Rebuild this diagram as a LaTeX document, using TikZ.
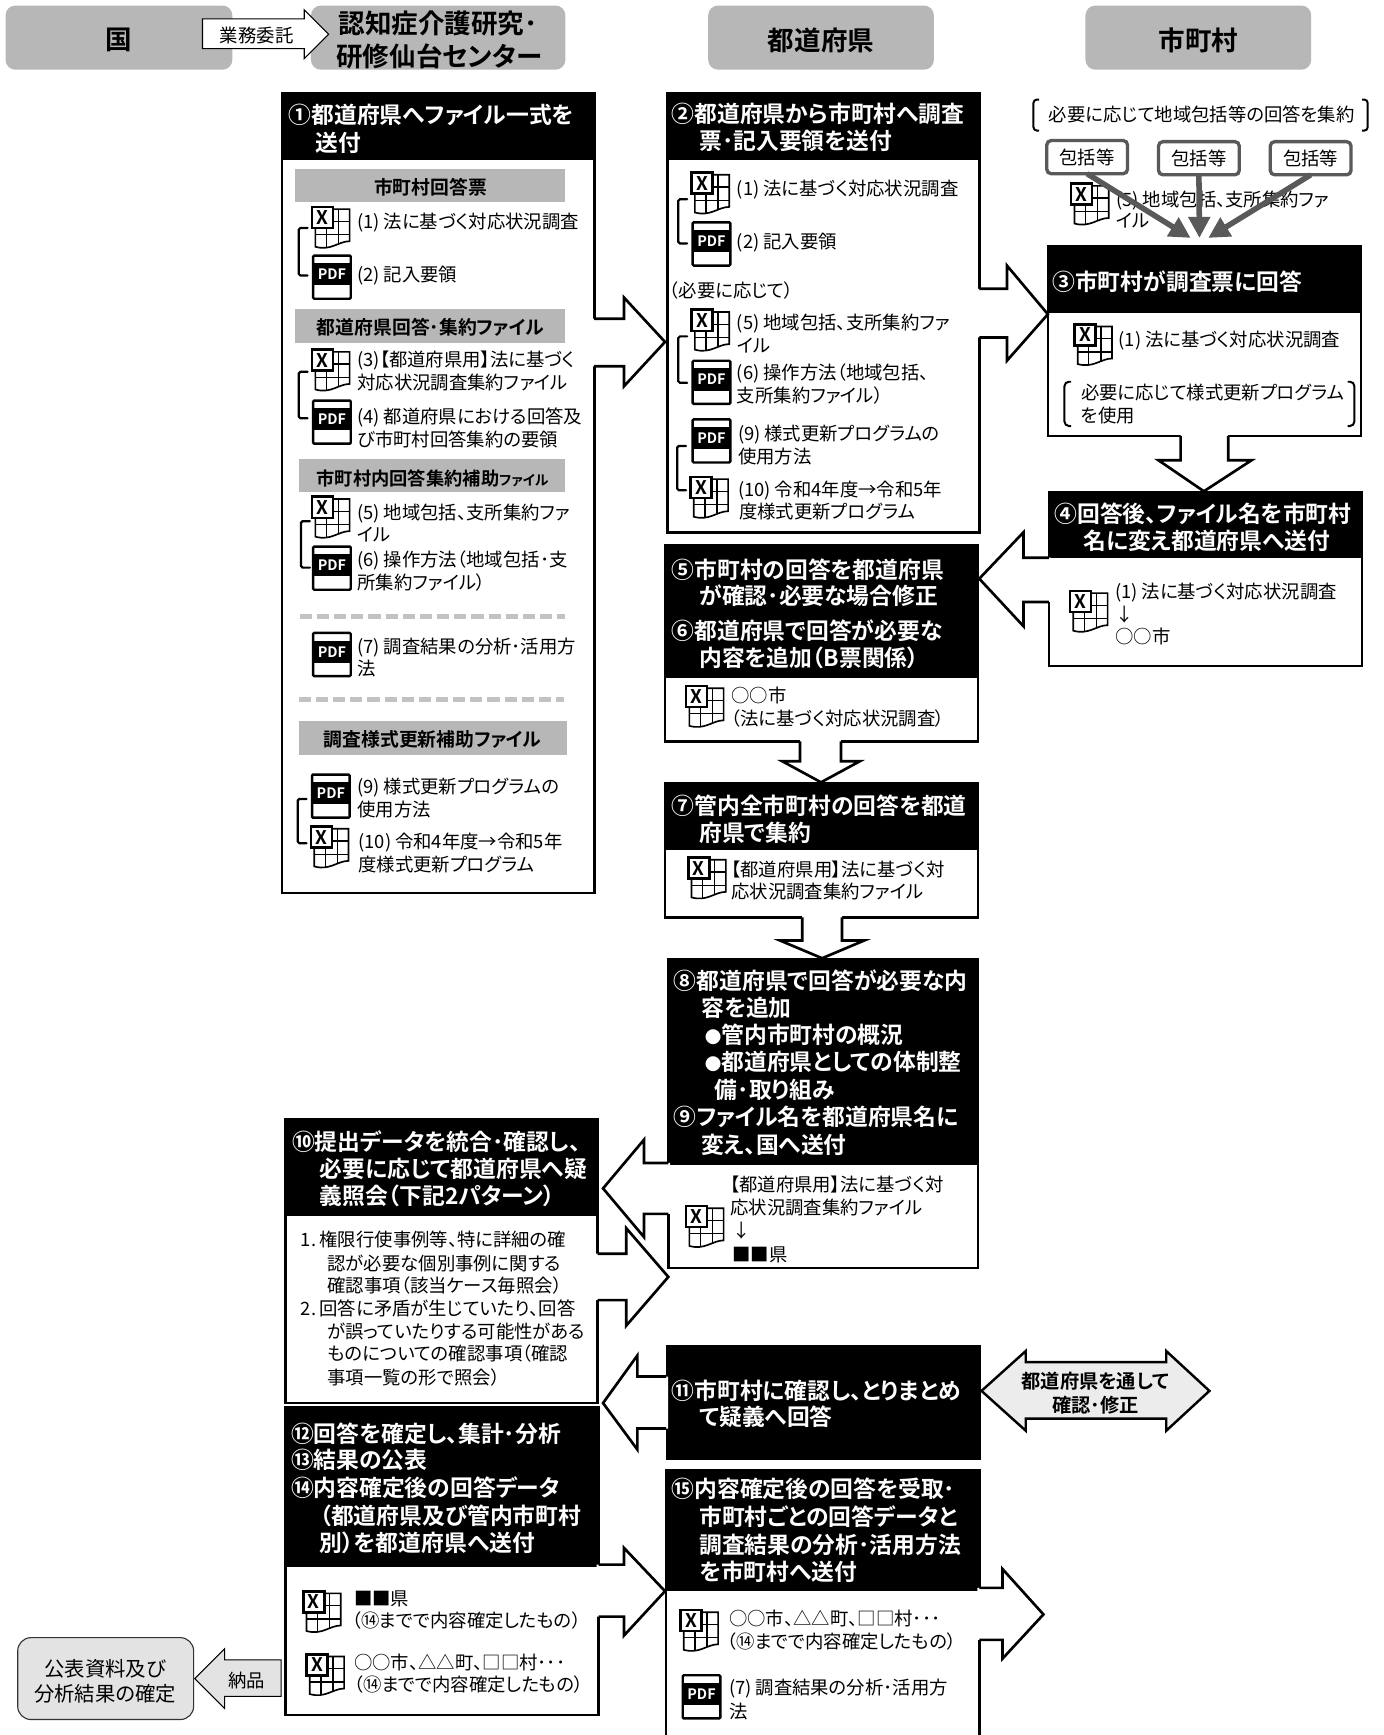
\documentclass[tikz,border=0pt]{standalone}
\usepackage{fontspec}
\usetikzlibrary{arrows.meta}
\setmainfont{Noto Sans CJK JP}[BoldFont={Noto Sans CJK JP Bold},RawFeature={+palt}]
\definecolor{strip}{HTML}{B7B7B7}
\definecolor{gconn}{HTML}{595959}
\newcounter{tn}
\newcommand\ps{\hspace{3.5pt}}
\newcommand\smb{{\fontsize{15}{15}\selectfont ●}}
\tikzset{
  every node/.style={inner sep=0pt,outer sep=0pt},
  bx/.style={draw=black,line width=2.4pt,fill=white,anchor=north west},
  hd/.style={draw=black,line width=1pt,fill=black,anchor=north west},
  topbox/.style={fill=strip,rounded corners=9pt,anchor=north west},
  stripbox/.style={fill=strip,anchor=north west},
  pk/.style={draw=gconn,line width=3pt,rounded corners=4pt,fill=white,anchor=north west},
  gc/.style={draw=gconn,line width=5pt,-{Triangle[length=19pt,width=19pt]}},
  brk/.style={line width=2pt,line cap=round,rounded corners=1.5pt},
  dsh/.style={draw=strip!85,line width=4pt,dash pattern=on 11pt off 4.5pt},
  iconln/.style={line width=1.5pt,draw=black},
  arr/.style={line width=2.4pt,draw=black,line join=miter},
}
% text helpers
\newcommand\htx[3]{\stepcounter{tn}\node[anchor=base west,text=white,font=\bfseries\fontsize{20.6}{25}\selectfont] (t\arabic{tn}) at (#1,#2+7.5) {#3};}
\newcommand\btx[3]{\stepcounter{tn}\node[anchor=base west,font=\fontsize{16.6}{20}\selectfont] (t\arabic{tn}) at (#1,#2+5.8) {#3};}
\newcommand\ctx[4]{\stepcounter{tn}\node[anchor=center,font=#4] (t\arabic{tn}) at (#1,#2) {#3};}
% flow box: name, x0, y0, x1, y header bottom, y1
\newcommand\flowbox[6]{%
  \pgfmathsetmacro\bw{#4-#2}\pgfmathsetmacro\bh{#6-#3}\pgfmathsetmacro\hh{#5-#3}%
  \node[bx,minimum width=\bw pt,minimum height=\bh pt] (#1) at (#2,#3) {};
  \node[hd,minimum width=\bw pt,minimum height=\hh pt] (#1h) at (#2,#3) {};
}
\newcommand\stripb[6]{%
  \pgfmathsetmacro\bw{#4-#2}\pgfmathsetmacro\bh{#5-#3}\pgfmathsetmacro\cx{(#2+#4)/2}\pgfmathsetmacro\cy{(#3+#5)/2}%
  \node[stripbox,minimum width=\bw pt,minimum height=\bh pt] (#1) at (#2,#3) {};
  \ctx{\cx}{\cy+1}{#6}{\bfseries\fontsize{17}{20}\selectfont}
}
% horizontal block arrow: xbase,xneck,xtip, yheadtop,yshafttop,ytip,yshaftbot,yheadbot, fill
\newcommand\harr[9]{%
  \pgfmathsetmacro\xf{#1+1.7*sign(#1-#3)}%
  \fill[#9] (\xf,#5) -- (#2,#5) -- (#2,#4) -- (#3,#6) -- (#2,#8) -- (#2,#7) -- (\xf,#7) -- cycle;
  \draw[arr] (#1,#5) -- (#2,#5) -- (#2,#4) -- (#3,#6) -- (#2,#8) -- (#2,#7) -- (#1,#7);
}
% vertical block arrow: ybase,yneck,ytip, xheadl,xshaftl,xtip,xshaftr,xheadr
\newcommand\varr[8]{%
  \fill[white] (#5,#1-1.7) -- (#5,#2) -- (#4,#2) -- (#6,#3) -- (#8,#2) -- (#7,#2) -- (#7,#1-1.7) -- cycle;
  \draw[arr] (#5,#1) -- (#5,#2) -- (#4,#2) -- (#6,#3) -- (#8,#2) -- (#7,#2) -- (#7,#1);
}
% icons
\newcommand\xl[2]{\begin{scope}[shift={(#1,#2)}]
  \draw[iconln,fill=white] (3,2) -- (34,2) -- (34,31) .. controls (24,31) and (17,40) .. (3,36) -- cycle;
  \draw[iconln,line width=1.2pt] (3,13) -- (34,13) (3,25) -- (34,25) (24,2) -- (24,33) (13,18) -- (13,37);
  \stepcounter{tn}\node[draw=black,line width=2.4pt,fill=white,minimum size=19pt,anchor=north west,font=\bfseries\fontsize{17}{17}\selectfont] (t\arabic{tn}) at (0,0) {X};
\end{scope}}
\newcommand\pdfi[2]{\begin{scope}[shift={(#1,#2)}]
  \draw[line width=2.2pt,rounded corners=1pt,fill=white] (0,0) rectangle (34,39);
  \fill[black] (0,7) rectangle (34,27);
  \stepcounter{tn}\node[text=white,font=\bfseries\fontsize{13}{13}\selectfont] (t\arabic{tn}) at (17,17) {PDF};
\end{scope}}
\newcommand\bkt[3]{\draw[brk] (#1+8,#2) -- (#1,#2) -- (#1,#3) -- (#1+8,#3);}
\begin{document}
\begin{tikzpicture}[x=1pt,y=-1pt]
\useasboundingbox (0,0) rectangle (1250,1568);
\clip (0,0) rectangle (1250,1568);
\fill[white] (0,0) rectangle (1250,1568);

% ---- column heads
\node[topbox,minimum width=205pt,minimum height=58pt] (kuni) at (5,5) {};
\node[topbox,minimum width=230pt,minimum height=58pt] (sendai) at (281,5) {};
\node[topbox,minimum width=204pt,minimum height=58pt] (pref) at (640,5) {};
\node[topbox,minimum width=204pt,minimum height=58pt] (muni) at (981,5) {};
\ctx{107}{36.5}{国}{\bfseries\fontsize{24}{28}\selectfont}
\ctx{396}{21}{認知症介護研究･}{\bfseries\fontsize{24}{28}\selectfont}
\ctx{397}{51}{研修仙台センター}{\bfseries\fontsize{24}{28}\selectfont}
\ctx{742}{36.5}{都道府県}{\bfseries\fontsize{24}{28}\selectfont}
\ctx{1083}{36.5}{市町村}{\bfseries\fontsize{24}{28}\selectfont}
\filldraw[fill=white,draw=black,line width=1pt] (183,17) -- (275,17) -- (275,9) -- (297,31) -- (275,53) -- (275,44) -- (183,44) -- cycle;
\ctx{232}{32}{業務委託}{\fontsize{16.6}{20}\selectfont}

% ---- flow boxes
\flowbox{bA}{255}{84}{537}{144}{807}
\flowbox{bB}{603}{84}{885}{144}{481}
\flowbox{bC}{947}{223}{1230}{282}{394}
\flowbox{bD}{948}{445}{1231}{504}{602}
\flowbox{bE}{601}{493}{884}{612}{670}
\flowbox{bF}{601}{708}{884}{768}{829}
\flowbox{bG}{604}{867}{884}{1052}{1146}
\flowbox{bH}{258}{1012}{540}{1098}{1268}
\node[hd,minimum width=284pt,minimum height=103pt] (bI) at (602,1216) {};
\flowbox{bJ}{258}{1272}{541}{1416}{1550}
\flowbox{bK}{602}{1329}{885}{1437}{1580}

% ---- block arrows
\harr{537}{564}{601}{269}{288}{309}{331}{349}{white}
\harr{885}{910}{947}{240}{261}{284}{305}{326}{white}
\varr{394}{416}{444}{1047}{1067}{1088}{1110}{1131}
\harr{948}{925}{885}{481}{504}{523}{544}{566}{white}
\varr{670}{688}{707}{707}{723}{742}{760}{777}
\varr{829}{850}{866}{705}{725}{743}{761}{781}
\harr{604}{582}{545}{1030}{1051}{1074}{1097}{1118}{white}
\harr{540}{566}{604}{1110}{1133}{1154}{1175}{1198}{white}
\harr{602}{576}{545}{1225}{1244}{1268}{1291}{1310}{white}
\harr{541}{564}{601}{1399}{1414}{1438}{1461}{1478}{white}
\harr{885}{906}{943}{1418}{1435}{1459}{1482}{1499}{white}

% double arrow
\filldraw[fill=gray!15,draw=black,line width=2.2pt] (887,1257) -- (927,1221) -- (927,1231) -- (1054,1231) -- (1054,1221) -- (1093,1257) -- (1054,1293) -- (1054,1282) -- (927,1282) -- (927,1293) -- cycle;
\ctx{990}{1248}{都道府県を通して}{\bfseries\fontsize{17.4}{20}\selectfont}
\ctx{990}{1270}{確認･修正}{\bfseries\fontsize{17.4}{20}\selectfont}

% deliver arrow + final box
\filldraw[fill=gray!22,draw=black,line width=0.9pt] (254,1500) -- (203,1500) -- (203,1490) -- (176,1517) -- (203,1544) -- (203,1533) -- (254,1533) -- cycle;
\ctx{223}{1519}{納品}{\fontsize{16.6}{20}\selectfont}
\node[draw=black!80,line width=1pt,fill=gray!22,rounded corners=12pt,minimum width=159pt,minimum height=74pt,anchor=north west] (fin) at (16,1480) {};
\ctx{95}{1508}{公表資料及び}{\fontsize{18.4}{22}\selectfont}
\ctx{95}{1531}{分析結果の確定}{\fontsize{18.4}{22}\selectfont}

% ---- box A
\htx{261}{104}{①都道府県へファイル一式を}
\htx{285}{129}{送付}
\stripb{sA1}{267}{153}{511}{183}{市町村回答票}
\stripb{sA2}{267}{279}{511}{310}{都道府県回答･集約ファイル}
\node[stripbox,minimum width=241pt,minimum height=30pt] (sA3) at (270,415) {};
\ctx{391}{432}{市町村内回答集約補助{\fontsize{12.5}{14}\selectfont ファイル}}{\bfseries\fontsize{16.5}{20}\selectfont}
\stripb{sA4}{270}{652}{512}{682}{調査様式更新補助ファイル}
\xl{282}{187} \pdfi{283}{231} \bkt{270}{206}{249}
\btx{323}{201}{(1)\ps 法に基づく対応状況調査}
\btx{323}{249}{(2)\ps 記入要領}
\xl{282}{316} \pdfi{283}{362} \bkt{270}{336}{378}
\btx{323}{325}{(3)【都道府県用】法に基づく}
\btx{323}{346}{対応状況調査集約ファイル}
\btx{323}{377}{(4)\ps 都道府県における回答及}
\btx{323}{398}{び市町村回答集約の要領}
\xl{282}{449} \pdfi{283}{494} \bkt{272}{471}{513}
\btx{323}{464}{(5)\ps 地域包括、支所集約ファ}
\btx{323}{484}{イル}
\btx{323}{506}{(6)\ps 操作方法（地域包括･支}
\btx{323}{527}{所集約ファイル）}
\draw[dsh] (271,557) -- (511,557);
\pdfi{283}{572}
\btx{323}{585}{(7)\ps 調査結果の分析･活用方}
\btx{323}{605}{法}
\draw[dsh] (270,632) -- (510,632);
\pdfi{282}{700} \xl{281}{747} \bkt{269}{722}{762}
\btx{323}{711}{(9)\ps 様式更新プログラムの}
\btx{323}{732}{使用方法}
\btx{324}{761}{(10)\ps 令和4年度→令和5年}
\btx{324}{782}{度様式更新プログラム}

% ---- box B
\htx{607}{103}{②都道府県から市町村へ調査}
\htx{632}{128}{票･記入要領を送付}
\xl{625}{156} \pdfi{626}{201} \bkt{613}{180}{220}
\btx{666}{171}{(1)\ps 法に基づく対応状況調査}
\btx{666}{219}{(2)\ps 記入要領}
\btx{605}{263}{（必要に応じて）}
\xl{625}{280} \pdfi{626}{326} \bkt{613}{304}{346}
\btx{666}{292}{(5)\ps 地域包括、支所集約ファ}
\btx{666}{313}{イル}
\btx{666}{337}{(6)\ps 操作方法（地域包括、}
\btx{666}{358}{支所集約ファイル）}
\pdfi{626}{379} \xl{624}{431} \bkt{612}{403}{443}
\btx{667}{392}{(9)\ps 様式更新プログラムの}
\btx{667}{413}{使用方法}
\btx{667}{443}{(10)\ps 令和4年度→令和5年}
\btx{668}{463}{度様式更新プログラム}

% ---- top right
\draw[line width=1.8pt,rounded corners=3pt] (939,90) -- (934,90) -- (934,118) -- (939,118);
\draw[line width=1.8pt,rounded corners=3pt] (1231,90) -- (1236,90) -- (1236,118) -- (1231,118);
\btx{948}{104}{必要に応じて地域包括等の回答を集約}
\node[pk,minimum width=73pt,minimum height=30pt,font=\fontsize{16.6}{20}\selectfont] (pA) at (946,127) {包括等};
\node[pk,minimum width=73pt,minimum height=30pt,font=\fontsize{16.6}{20}\selectfont] (pB) at (1047,128) {包括等};
\node[pk,minimum width=73pt,minimum height=30pt,font=\fontsize{16.6}{20}\selectfont] (pC) at (1148,128) {包括等};
\xl{968}{166}
\btx{1009}{181}{(5)\ps 地域包括、支所集約ファ}
\btx{1009}{200}{イル}
\coordinate (tC1) at (1076,215);
\coordinate (tC2) at (1084,215);
\coordinate (tC3) at (1092,215);
\draw[gc] (pA.south) -- (tC1);
\draw[gc] (pB.south) -- (tC2);
\draw[gc] (pC.south) -- (tC3);

% ---- box C
\htx{951}{255}{③市町村が調査票に回答}
\xl{971}{293}
\btx{1011}{307}{(1)\ps 法に基づく対応状況調査}
\draw[line width=1.8pt,rounded corners=4pt] (968,345) -- (962,345) -- (962,385) -- (968,385);
\draw[line width=1.8pt,rounded corners=4pt] (1218,345) -- (1224,345) -- (1224,385) -- (1218,385);
\btx{977}{355}{必要に応じて様式更新プログラム}
\btx{977}{376}{を使用}

% ---- box D
\htx{953}{465}{④回答後、ファイル名を市町村}
\htx{979}{489}{名に変え都道府県へ送付}
\xl{967}{534}
\btx{1008}{535}{(1)\ps 法に基づく対応状況調査}
\btx{1008}{556}{↓}
\btx{1008}{576}{○○市}

% ---- box E
\htx{607}{515}{⑤市町村の回答を都道府県}
\htx{632}{539}{が確認･必要な場合修正}
\htx{607}{570}{⑥都道府県で回答が必要な}
\htx{632}{595}{内容を追加（B票関係）}
\xl{620}{620}
\btx{661}{629}{○○市}
\btx{661}{650}{（法に基づく対応状況調査）}

% ---- box F
\htx{607}{729}{⑦管内全市町村の回答を都道}
\htx{632}{753}{府県で集約}
\xl{622}{775}
\btx{661}{786}{【都道府県用】法に基づく対}
\btx{661}{806}{応状況調査集約ファイル}

% ---- box G
\htx{609}{887}{⑧都道府県で回答が必要な内}
\htx{634}{911}{容を追加}
\htx{637}{936}{\smb 管内市町村の概況}
\htx{637}{960}{\smb 都道府県としての体制整}
\htx{646}{985}{備･取り組み}
\htx{609}{1010}{⑨ファイル名を都道府県名に}
\htx{634}{1035}{変え、国へ送付}
\xl{620}{1090}
\btx{660}{1071}{【都道府県用】法に基づく対}
\btx{660}{1092}{応状況調査集約ファイル}
\btx{662}{1113}{↓}
\btx{662}{1134}{■■県}

% ---- box H
\htx{264}{1032}{⑩提出データを統合･確認し、}
\htx{289}{1057}{必要に応じて都道府県へ疑}
\htx{289}{1081}{義照会（下記2パターン）}
\btx{272}{1121}{1.\hspace{3pt}権限行使事例等、特に詳細の確}
\btx{296}{1142}{認が必要な個別事例に関する}
\btx{296}{1162}{確認事項（該当ケース毎照会）}
\btx{272}{1183}{2.\hspace{3pt}回答に矛盾が生じていたり、回答}
\btx{296}{1204}{が誤っていたりする可能性がある}
\btx{296}{1224}{ものについての確認事項（確認}
\btx{296}{1245}{事項一覧の形で照会）}

% ---- box I
\htx{607}{1257}{⑪市町村に確認し、とりまとめ}
\htx{632}{1281}{て疑義へ回答}

% ---- box J
\htx{263}{1296}{⑫回答を確定し、集計･分析}
\htx{263}{1320}{⑬結果の公表}
\htx{263}{1345}{⑭内容確定後の回答データ}
\htx{289}{1370}{（都道府県及び管内市町村}
\htx{289}{1395}{別）を都道府県へ送付}
\xl{274}{1438}
\btx{320}{1445}{■■県}
\btx{318}{1465}{（⑭までで内容確定したもの）}
\xl{277}{1495}
\btx{320}{1503}{○○市、△△町、□□村･･･}
\btx{320}{1523}{（⑭までで内容確定したもの）}

% ---- box K
\htx{607}{1346}{⑮内容確定後の回答を受取･}
\htx{632}{1371}{市町村ごとの回答データと}
\htx{632}{1396}{調査結果の分析･活用方法}
\htx{632}{1421}{を市町村へ送付}
\xl{615}{1455}
\btx{659}{1463}{○○市、△△町、□□村･･･}
\btx{657}{1484}{（⑭までで内容確定したもの）}
\pdfi{617}{1514}
\btx{659}{1526}{(7)\ps 調査結果の分析･活用方}
\btx{659}{1547}{法}
\end{tikzpicture}
\end{document}
